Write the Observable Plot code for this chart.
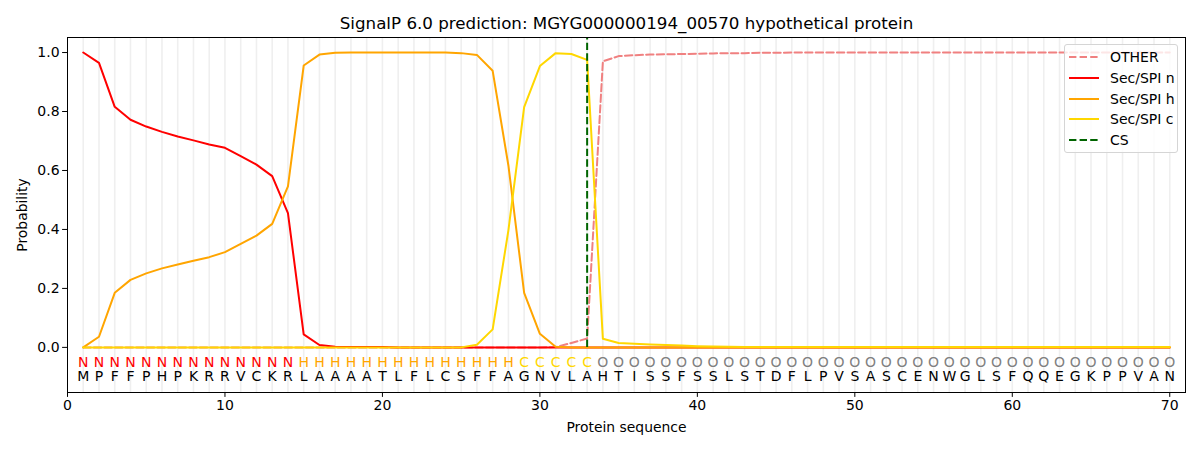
<!DOCTYPE html>
<html>
<head>
<meta charset="utf-8">
<script src="https://cdn.jsdelivr.net/npm/d3@7"></script>
<script src="https://cdn.jsdelivr.net/npm/@observablehq/plot@0.6"></script>
<style>
  html, body { margin: 0; padding: 0; background: white; }
  #wrap { position: relative; width: 1200px; height: 450px; font-family: "DejaVu Sans", sans-serif; }
  #legend { position: absolute; left: 1064px; top: 44px; width: 112px; height: 107px;
            border: 1px solid #d5d5d5; border-radius: 3px; background: rgba(255,255,255,0.8);
            font-size: 14px; color: #000; }
  .item { position: absolute; left: 0; height: 20px; display: flex; align-items: center; }
  .item svg { margin-left: 4px; margin-right: 11px; }
</style>
</head>
<body>
<div id="wrap"></div>
<script>
const title = "SignalP 6.0 prediction: MGYG000000194_00570 hypothetical protein";
const residues = "MPFFPHPKRRVCKRLAAAATLFLCSFFAGNVLAHTISSFSSLSTDFLPVSASCENWGLSFQQEGKPPVAN".split("");
const regionLabels = "NNNNNNNNNNNNNNHHHHHHHHHHHHHHCCCCCOOOOOOOOOOOOOOOOOOOOOOOOOOOOOOOOOOOOO".split("");
const positions = residues.map((_, i) => i + 1);

const otherP = [
  0,0,0,0,0,0,0,0,0,0, 0,0,0,0,0,0,0,0,0,0, 0,0,0,0,0,0,0,0,0,0,
  0.001,0.015,0.03,0.97,0.988,0.991,0.993,0.994,0.995,0.996,
  0.997,0.998,0.998,0.999,0.999,
  1,1,1,1,1, 1,1,1,1,1, 1,1,1,1,1, 1,1,1,1,1, 1,1,1,1,1
];
const nP = [
  1.0,0.965,0.816,0.772,0.749,0.731,0.715,0.702,0.688,0.677,
  0.649,0.620,0.581,0.455,0.044,0.008,0.002,0.001,0.001,0.001,
  0,0,0,0,0,0,0,0,0,0, 0,0,0,0,0,0,0,0,0,0,
  0,0,0,0,0,0,0,0,0,0, 0,0,0,0,0,0,0,0,0,0,
  0,0,0,0,0,0,0,0,0,0
];
const hP = [
  0,0.036,0.185,0.229,0.251,0.268,0.281,0.294,0.306,0.323,
  0.351,0.379,0.419,0.546,0.956,0.993,0.999,
  1,1,1,1,1,1,1,
  0.998,0.992,0.938,0.617,0.185,0.046,0.002,
  0,0,0,0,0,0,0,0,0, 0,0,0,0,0,0,0,0,0,0,
  0,0,0,0,0,0,0,0,0,0, 0,0,0,0,0,0,0,0,0,0
];
const cP = [
  0,0,0,0,0,0,0,0,0,0, 0,0,0,0,0,0,0,0,0,0, 0,0,0,0,0,
  0.009,0.061,0.397,0.815,0.954,0.998,0.995,0.975,0.029,0.015,
  0.012,0.010,0.008,0.006,0.004,0.003,0.002,
  0.001,0.001,0.001,0.001,0.001,0.001,0.001,0.001,0.001,0.001,
  0.001,0.001,0.001,0.001,0.001,0.001,0.001,0.001,0.001,0.001,
  0.001,0.001,0.001,0.001,0.001,0.001,0.001,0.001
];
const csPosition = 33;
const xTicks = [0, 10, 20, 30, 40, 50, 60, 70];
const yTicks = [0, 0.2, 0.4, 0.6, 0.8, 1.0];

const seriesDefs = [
  {name: "OTHER", values: otherP, color: "#f08080", dash: "7.4,3.2"},
  {name: "Sec/SPI n", values: nP, color: "#ff0000", dash: null},
  {name: "Sec/SPI h", values: hP, color: "#ffa500", dash: null},
  {name: "Sec/SPI c", values: cP, color: "#ffd700", dash: null}
];
const labelColors = {N: "#ff0000", H: "#ffa500", C: "#ffd700", O: "#808080"};

const yTop = 1.051, yBottom = -0.153;

const lineMarks = seriesDefs.map(s =>
  Plot.line(positions.map((p, i) => ({pos: p, prob: s.values[i]})), {
    x: "pos", y: "prob", stroke: s.color, strokeWidth: 2,
    strokeDasharray: s.dash || undefined, strokeLinejoin: "round"
  })
);

const chart = Plot.plot({
  width: 1200, height: 450,
  marginLeft: 67, marginRight: 15, marginTop: 37, marginBottom: 58,
  style: {fontFamily: "DejaVu Sans, sans-serif", fontSize: "14px", background: "white", color: "black"},
  x: {domain: [0, 71]},
  y: {domain: [yBottom, yTop]},
  marks: [
    Plot.ruleX(positions, {stroke: "#efefef", strokeWidth: 1.6}),
    ...lineMarks,
    Plot.ruleX([csPosition], {y1: 0, y2: yTop, stroke: "#006400", strokeWidth: 2, strokeDasharray: "7.4,3.2"}),
    Plot.text(positions, {x: d => d, y: -0.05, text: (d, i) => regionLabels[i],
      fill: (d, i) => labelColors[regionLabels[i]], fontSize: 14}),
    Plot.text(positions, {x: d => d, y: -0.1, text: (d, i) => residues[i], fill: "#000", fontSize: 14}),
    Plot.frame({stroke: "black", strokeWidth: 1}),
    Plot.axisX({ticks: xTicks, tickSize: 4.9, tickPadding: 3, fontSize: 14, label: null}),
    Plot.axisY({ticks: yTicks, tickFormat: ".1f", tickSize: 4.9, tickPadding: 3, fontSize: 14, label: null}),
    Plot.text([title], {text: d => d, frameAnchor: "top", lineAnchor: "middle", dy: -14, fontSize: 16.7}),
    Plot.text(["Protein sequence"], {text: d => d, frameAnchor: "bottom", lineAnchor: "middle", dy: 35, fontSize: 13.9}),
    Plot.text(["Probability"], {text: d => d, frameAnchor: "left", textAnchor: "middle", lineAnchor: "middle", dx: -45, rotate: -90, fontSize: 13.9})
  ]
});

const wrap = document.getElementById("wrap");
wrap.appendChild(chart);

const legendItems = [
  ...seriesDefs.map(s => ({name: s.name, color: s.color, dash: s.dash})),
  {name: "CS", color: "#006400", dash: "7.4,3.2"}
];
const legend = document.createElement("div");
legend.id = "legend";
legendItems.forEach((it, i) => {
  const row = document.createElement("div");
  row.className = "item";
  row.style.top = (2 + i * 20.8) + "px";
  row.innerHTML = `<svg width="30" height="6"><line x1="0" y1="3" x2="30" y2="3" stroke="${it.color}" stroke-width="2" ${it.dash ? `stroke-dasharray="${it.dash}"` : ""}/></svg><span>${it.name}</span>`;
  legend.appendChild(row);
});
wrap.appendChild(legend);
</script>
</body>
</html>
